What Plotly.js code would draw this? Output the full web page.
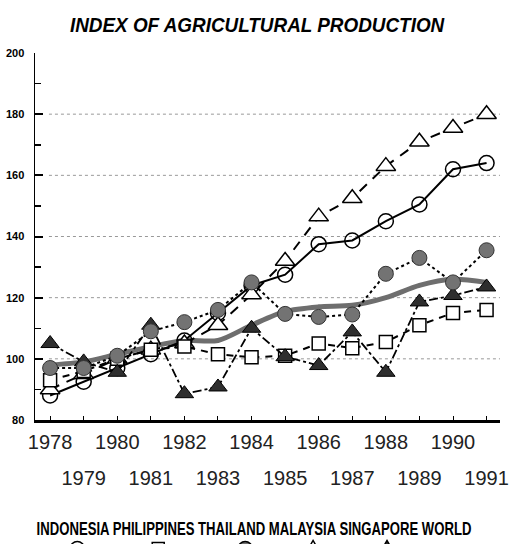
<!DOCTYPE html>
<html>
<head>
<meta charset="utf-8">
<script src="https://cdn.plot.ly/plotly-3.0.1.min.js"></script>
<style>
html,body{margin:0;padding:0;background:#fff;}
#chart{width:509px;height:544px;}
#chart .annotation-text{transform-box:fill-box;transform-origin:center;transform:scaleX(0.73);}
#chart .gtitle{transform-box:fill-box;transform-origin:center;transform:scaleX(0.9);}
</style>
</head>
<body>
<div id="chart"></div>
<script>
const years = [1978,1979,1980,1981,1982,1983,1984,1985,1986,1987,1988,1989,1990,1991];
const oddYears = years.filter(y => y % 2 === 1);
const seriesNames = ["INDONESIA","PHILIPPINES","THAILAND","MALAYSIA","SINGAPORE","WORLD"];
const indonesia   = [88, 92.5, 97, 101.5, 106, 115, 124, 127.5, 137.5, 138.7, 145, 150.5, 162, 164];
const philippines = [93, 96, 100, 103, 104, 101.5, 100.5, 101, 105, 103.5, 105.5, 111, 115, 116];
const thailand    = [97, 97, 101, 109, 112, 116, 125, 114.7, 113.7, 114.5, 127.8, 133, 125, 135.5];
const malaysia    = [90, 95, 100, 103, 105, 111, 121, 132, 146.5, 152.5, 163, 171, 175.5, 180];
const singapore   = [105, 99, 95.6, 111, 88.6, 90.8, 110, 100.7, 97.8, 108.8, 95.6, 118.6, 120.7, 123.5];
const world       = [98, 99, 101.5, 104, 106, 106, 111, 115.5, 117, 117.5, 120, 124, 126, 125];
const yTickVals = [80,100,120,140,160,180,200];
const gridVals = [100,120,140,160,180];

const FONT = "Liberation Sans, Arial, sans-serif";

// legend glyph styles (drawn below the names, mostly cut by the page edge)
const legendGlyphX = [0.091, 0.265, 0.452, 0.598, 0.757, 0.897];
const legendGlyphY = -0.35;
const legendGlyphs = [
  {kind: 'circle',   fill: '#fff',    dash: 'solid'},
  {kind: 'square',   fill: '#fff',    dash: 'dash'},
  {kind: 'circle',   fill: '#737373', dash: 'dot'},
  {kind: 'triangle', fill: '#fff',    dash: 'longdash'},
  {kind: 'triangle', fill: '#2e2e2e', dash: 'dashdot'},
  {kind: 'none',     fill: '#6e6e6e', dash: 'solid'}
];

const traces = [
  {x: years, y: world, name: seriesNames[5], mode: 'lines',
   line: {color: '#6e6e6e', width: 5, shape: 'spline', smoothing: 0.8}},
  {x: years, y: indonesia, name: seriesNames[0], mode: 'lines+markers',
   line: {color: '#000', width: 2},
   marker: {symbol: 'circle', size: 15, color: 'rgba(255,255,255,0)', line: {color: '#000', width: 1.5}}},
  {x: years, y: malaysia, name: seriesNames[3], mode: 'lines+markers',
   line: {color: '#000', width: 2, dash: '10px,8px'},
   marker: {symbol: 'triangle-up', size: 17, color: '#fff', line: {color: '#000', width: 1.5}}},
  {x: years, y: philippines, name: seriesNames[1], mode: 'lines+markers',
   line: {color: '#000', width: 2, dash: '7px,6px'},
   marker: {symbol: 'square', size: 13, color: '#fff', line: {color: '#000', width: 1.5}}},
  {x: years, y: singapore, name: seriesNames[4], mode: 'lines+markers',
   line: {color: '#000', width: 1.8, dash: 'dashdot'},
   marker: {symbol: 'triangle-up', size: 16, color: '#2e2e2e', line: {color: '#000', width: 1}}},
  {x: years, y: thailand, name: seriesNames[2], mode: 'lines+markers',
   line: {color: '#000', width: 2, dash: 'dot'},
   marker: {symbol: 'circle', size: 15, color: '#737373', line: {color: '#333', width: 1}}},
  {x: oddYears, y: oddYears.map(() => null), xaxis: 'x2', mode: 'lines', hoverinfo: 'skip', showlegend: false}
];

const shapes = gridVals.map(v => ({type: 'line', xref: 'paper', x0: 0.03, x1: 1, yref: 'y', y0: v, y1: v,
          line: {color: '#999', width: 1, dash: 'dot'}, layer: 'below'}));

legendGlyphs.forEach((g, i) => {
  const base = {xref: 'paper', yref: 'paper', xsizemode: 'pixel', ysizemode: 'pixel',
                xanchor: legendGlyphX[i], yanchor: legendGlyphY};
  shapes.push(Object.assign({}, base, {type: 'line', x0: -15, x1: 15, y0: 0, y1: 0,
              line: {color: g.kind === 'none' ? g.fill : '#000', width: g.kind === 'none' ? 5 : 2, dash: g.dash}}));
  if (g.kind === 'circle') {
    shapes.push(Object.assign({}, base, {type: 'circle', x0: -7, x1: 7, y0: -7, y1: 7,
                fillcolor: g.fill, line: {color: '#000', width: 1.5}}));
  } else if (g.kind === 'square') {
    shapes.push(Object.assign({}, base, {type: 'rect', x0: -6, x1: 6, y0: -6, y1: 6,
                fillcolor: g.fill, line: {color: '#000', width: 1.5}}));
  } else if (g.kind === 'triangle') {
    shapes.push(Object.assign({}, base, {type: 'path', path: 'M -8 -6 L 8 -6 L 0 8 Z',
                fillcolor: g.fill, line: {color: '#000', width: 1.5}}));
  }
});

const layout = {
  width: 509, height: 544,
  margin: {l: 35, r: 9, t: 53, b: 124},
  paper_bgcolor: '#fff', plot_bgcolor: '#fff',
  showlegend: false,
  title: {text: '<b><i>INDEX OF AGRICULTURAL PRODUCTION</i></b>', x: 0.505, xanchor: 'center', y: 0.955, yanchor: 'middle',
          font: {family: FONT, size: 21, color: '#000'}},
  xaxis: {range: [1977.55, 1991.4], tickvals: years, ticktext: years.map(y => y % 2 === 0 ? String(y) : ''),
          ticks: 'inside', ticklen: 4, tickwidth: 1, tickcolor: '#000',
          showline: true, linecolor: '#000', linewidth: 2.5, showgrid: false, zeroline: false,
          ticklabelstandoff: 2, ticklabeloverflow: 'allow',
          tickfont: {family: FONT, size: 20, color: '#222'}},
  xaxis2: {overlaying: 'x', anchor: 'y', side: 'bottom', range: [1977.55, 1991.4],
           tickvals: oddYears, ticktext: oddYears.map(String), ticks: '', showline: false,
           showgrid: false, zeroline: false, ticklabelstandoff: 44, ticklabeloverflow: 'allow',
           tickfont: {family: FONT, size: 20, color: '#222'}},
  yaxis: {range: [80, 200], tickvals: yTickVals, ticktext: yTickVals.map(String),
          ticks: 'inside', ticklen: 8, tickwidth: 2, tickcolor: '#000',
          minor: {tickvals: [90,110,130,150,170,190], ticks: 'inside', ticklen: 6, tickwidth: 1.5, tickcolor: '#000', showgrid: false},
          showline: true, linecolor: '#000', linewidth: 1.5, showgrid: false, zeroline: false,
          ticklabelstandoff: 7,
          tickfont: {family: FONT, size: 11, color: '#000', weight: 'bold'}},
  shapes: shapes,
  annotations: [
    {text: '<b>' + seriesNames.join(' ') + '</b>', xref: 'paper', yref: 'paper', x: 0.47, y: -0.297,
     xanchor: 'center', yanchor: 'middle', showarrow: false,
     font: {family: FONT, size: 18, color: '#000'}}
  ]
};

Plotly.newPlot('chart', traces, layout, {displayModeBar: false, staticPlot: true});
</script>
</body>
</html>
